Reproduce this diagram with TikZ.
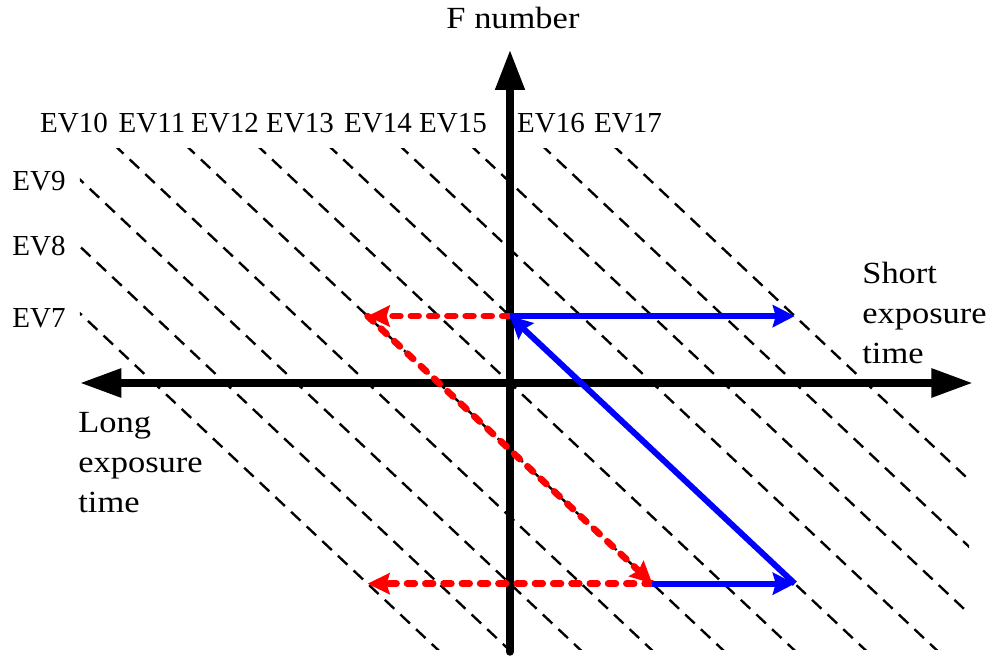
\documentclass[tikz,border=0pt]{standalone}
\usepackage{fontspec}
\setmainfont{Liberation Serif}
\newfontfamily\axisfont{Liberation Serif}[FakeStretch=1.12]
\usetikzlibrary{arrows.meta}
\definecolor{evBlue}{RGB}{0,0,255}
\definecolor{evRed}{RGB}{255,0,0}
\tikzset{
  evline/.style={draw=black, line width=1.35pt, dash pattern=on 7.4pt off 4.8pt},
  axisline/.style={draw=black, line width=4.3pt, line cap=round},
  bluearrow/.style={-{Stealth[length=4.4mm, width=4.4mm, inset=0.6mm]}, line width=3.4pt, draw=evBlue},
  redarrow/.style={-{Stealth[length=4.4mm, width=4.2mm, inset=0.6mm]}, line width=3.8pt, draw=evRed,
                   line cap=round, dash pattern=on 4.4pt off 6pt},
  evlabel/.style={inner sep=0pt, font=\fontsize{16.5}{19}\selectfont},
  sidelabel/.style={inner sep=0pt, align=left, font=\axisfont\fontsize{17.5}{22.7}\selectfont}
}

\begin{document}
\begin{tikzpicture}[x=1.424cm, y=1.338cm]
\useasboundingbox (-7.163,-4.126) rectangle (6.812,5.725);
% equal exposure lines, x + y = n - 12
\begin{scope}
\clip (-6.04,-3.98) rectangle (6.45,3.51);
\foreach \n in {7,...,17}
  \draw[evline] ({\n-16},4) -- ({\n-7},-5);
\end{scope}
% labels of the lines
\foreach \n/\lx in {10/-6.124, 11/-5.028, 12/-4.003, 13/-2.949, 14/-1.854, 15/-0.801, 16/0.576, 17/1.657}
  \node[evlabel, anchor=base] (ev\n) at (\lx,3.737) {EV\n};
\foreach \n/\ly in {9/2.870, 8/1.913, 7/0.822}
  \node[evlabel, anchor=base west] (ev\n) at (-6.994,\ly) {EV\n};
% axes
\coordinate (xmin) at (-6.04,0);
\coordinate (xmax) at (6.50,0);
\coordinate (ymin) at (0,-4.02);
\coordinate (ymax) at (0,4.98);
\draw[axisline, {Triangle[length=8.3mm, width=5.5mm]}-{Triangle[length=8.3mm, width=5.5mm]}] (xmin) -- (xmax);
\draw[axisline, -{Triangle[length=8.0mm, width=5.6mm]}] (ymin) -- (ymax);
\node[sidelabel, anchor=base] (fnum) at (0.042,5.306) {F number};
\node[sidelabel, anchor=north west] (short) at (4.944,1.809) {Short\\exposure\\time};
\node[sidelabel, anchor=north west] (long) at (-6.067,-0.441) {Long\\exposure\\time};
% points on the lines
\coordinate (a13) at (0,1);
\coordinate (a17) at (4,1);
\coordinate (a11) at (-2,1);
\coordinate (b11) at (2,-3);
\coordinate (b13) at (4,-3);
\coordinate (b7) at (-2,-3);
\draw[redarrow] (a13) -- (a11);
\draw[redarrow] (a11) -- (b11);
\draw[redarrow] (b11) -- (b7);
\draw[bluearrow] (b11) -- (b13);
\draw[bluearrow] (b13) -- (a13);
\draw[bluearrow] (a13) -- (a17);
\end{tikzpicture}
\end{document}
